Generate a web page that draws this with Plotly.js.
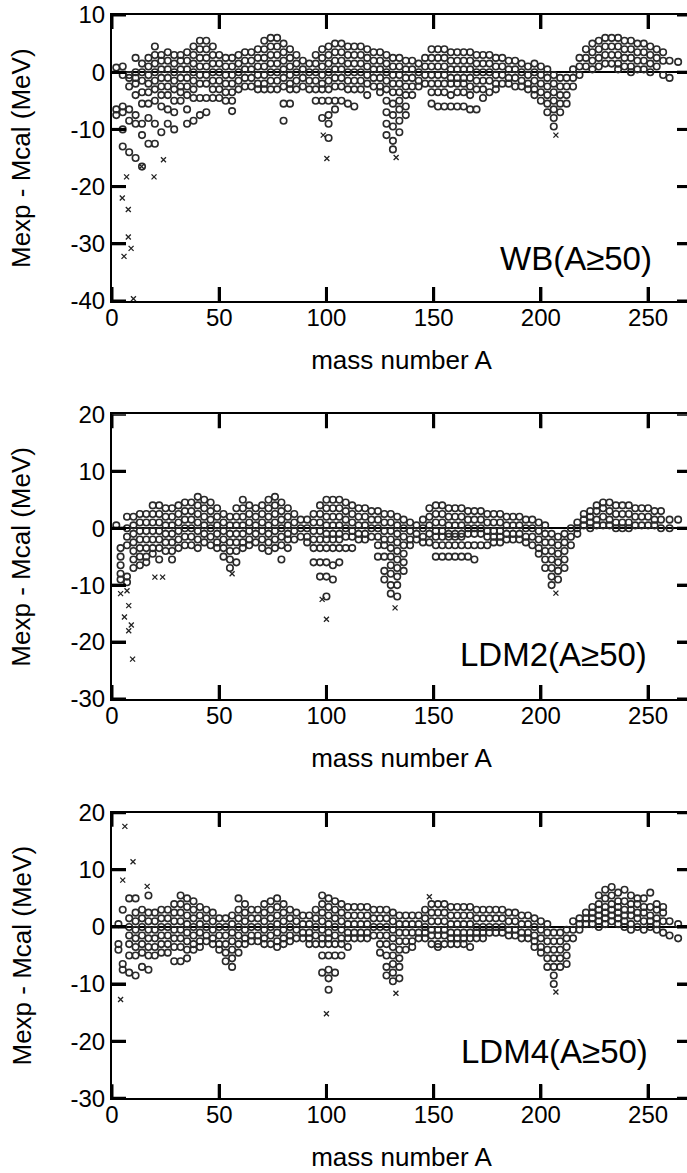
<!DOCTYPE html>
<html>
<head>
<meta charset="utf-8">
<script src="https://cdn.plot.ly/plotly-3.0.1.min.js"></script>
<style>
html,body{margin:0;padding:0;overflow:hidden;background:#fff;}
#chart{width:700px;height:1173px;}
</style>
</head>
<body>
<div id="chart"></div>
<script>
// ---------- shared tick values ----------
const massTicks = [0, 50, 100, 150, 200, 250];
const wbTicks = [-40, -30, -20, -10, 0, 10];
const wbTickText = ['-40', '-30', '-20', '-10', '0', '10'];
const ldmTicks = [-30, -20, -10, 0, 10, 20];
const ldmTickText = ['-30', '-20', '-10', '0', '10', '20'];
const panelLabels = ['WB(A\u226550)', 'LDM2(A\u226550)', 'LDM4(A\u226550)'];
const xTitle = 'mass number A';
const yTitle = 'Mexp - Mcal (MeV)';

// ---------- WB(A>=50) : column mass numbers and deviations (MeV) ----------
const wbMass = [2,5,8,11,14,17,20,23,26,29,32,35,38,41,44,47,50,53,56,59,62,65,68,71,74,77,80,83,86,89,92,95,98,101,104,107,110,113,116,119,122,125,128,131,134,137,140,143,146,149,152,155,158,161,164,167,170,173,176,179,182,185,188,191,194,197,200,203,206,209,212,215,218,221,224,227,230,233,236,239,242,245,248,251,254,257,260,264];
const wbDev = [
 [0.8,-6.5,-7.5],
 [1,-0.5,-6,-7,-10,-13],
 [-0.5,-1,-2.5,-6.5,-8.5,-14],
 [2.5,0,-1,-2,-4,-7.5,-9,-15],
 [1.5,0,-1.5,-3.5,-5.5,-9,-11,-16.5],
 [2.5,1,-0.5,-2,-3.5,-5.5,-8,-12.5],
 [4.5,3,1.5,0,-1.5,-3,-5,-9,-12.5],
 [3,2,0.5,-1,-2.5,-4,-6,-10.5],
 [3.5,2,0.5,-1,-2.5,-4,-6.5,-9],
 [3,1.5,0,-1.5,-3,-5,-7,-10],
 [3,2,0.5,-1,-2.5,-3.5,-5],
 [3.5,2,0.5,-1,-2.5,-4,-6.5,-9],
 [4.5,3,1.5,0,-1.5,-3,-4.5,-8.5],
 [5.5,4,2.5,1,-0.5,-2,-4.5,-7.5],
 [5.5,4,2.5,1,-0.5,-2,-4.5,-7],
 [4.5,3,1.5,0,-1.5,-3,-4.5],
 [3,1.5,0,-1.5,-3,-4.5],
 [2.5,1,-0.5,-2,-3.5,-5],
 [2.5,1,-0.5,-2,-3.5,-5,-6.8],
 [3,1.5,0,-1.5,-3],
 [3.5,2,0.5,-1,-2.5],
 [3.5,2,0.5,-1,-2.5],
 [4,2.5,1,-0.5,-2,-3],
 [5.5,4,2.5,1,-0.5,-2,-3],
 [6,4.5,3,1.5,0,-1.5,-3],
 [6,4.5,3,1.5,0,-1.5,-3],
 [5,3.5,2,0.5,-1,-2.5,-5.5,-8.5],
 [4,2.5,1,-0.5,-2,-3,-5.5],
 [3,1.5,0,-1.5,-3],
 [2,0.5,-1,-2.5],
 [1.5,0,-1.5,-3],
 [3,1.5,0,-1.5,-3,-5],
 [4,2.5,1,-0.5,-2,-3,-5,-8],
 [4.5,3,1.5,0,-1.5,-3,-5,-7.5,-9,-11.5],
 [5,3.5,2,0.5,-1,-2.5,-5,-6.5],
 [5,3.5,2,0.5,-1,-2.5,-5],
 [4.5,3,1.5,0,-1.5,-3,-5.5],
 [4.5,3,1.5,0,-1.5,-3,-6],
 [4.5,3,1.5,0,-1.5,-3],
 [4,2.5,1,-0.5,-2,-4],
 [3.5,2,0.5,-1,-2.5],
 [3.5,2,0.5,-1,-2.5,-3.5],
 [3,1.5,0,-1.5,-3,-5,-7,-9,-11],
 [2.5,1,-0.5,-2,-3.5,-5.5,-7.5,-9.5,-12,-13.5],
 [2.5,1,-0.5,-2,-3.5,-5,-6.5,-8.5,-10.5],
 [2,0.5,-1,-2.5,-4,-6,-7.5],
 [2,0.5,-1,-2.5,-4],
 [1.5,0,-1.5,-2.5],
 [2.5,1,-0.5,-2],
 [4,2.5,1,-0.5,-2,-3.5,-5.5],
 [4,2.5,1,-0.5,-2,-3.5,-6],
 [4,2.5,1,-0.5,-2,-3.5,-6],
 [3.5,2,0.5,-1,-2,-4,-6],
 [3.5,2,0.5,-1,-2,-3.5,-6],
 [3.5,2,0.5,-1,-2,-3.5,-6],
 [3.5,2,0.5,-1,-2.5,-4,-6.5],
 [3,1.5,0,-1.5,-3,-6.5],
 [3,1.5,0,-1.5,-3,-4.5],
 [3,1.5,0,-1.5,-3.5],
 [2.5,1,-0.5,-2,-3],
 [2.5,1,-0.5,-2],
 [2,0.5,-1,-2],
 [2,0.5,-1,-2.5],
 [1.5,0,-1.5,-2.5],
 [1,-0.5,-2,-3],
 [1.5,0,-1.5,-3,-4],
 [1,-0.5,-2,-3.5,-5],
 [0.5,-1,-2.5,-4,-5.5,-7],
 [-0.5,-2,-3.5,-5,-6.5,-8,-9.5],
 [-1,-2.5,-4,-5.5,-7],
 [-1,-2.5,-4,-5.5],
 [0.5,-1,-2.5],
 [2.5,1,-0.5],
 [4,2.5,1],
 [5,3.5,2,0.5],
 [5.5,4,2.5,1],
 [6,4.5,3,1.5],
 [6,4.5,3,1.5],
 [6,4.5,3,1.5,0.5],
 [5.5,4,2.5,1],
 [5.5,4,2.5,1,0],
 [5,3.5,2,0.5],
 [5,3.5,2,0.5],
 [4.5,3,1.5,0],
 [4,2.5,1],
 [3.5,2,-0.5],
 [2,-1],
 [1.8]
];
const wbOutMass = [4.8,5.6,7.6,8.9,7.6,6.8,10,13.8,19.6,24,100.2,98.5,132.5,207];
const wbOutDev  = [-22,-32.2,-28.8,-30.8,-24,-18.3,-39.6,-16.5,-18.3,-15.3,-15.1,-11,-14.9,-11];

// ---------- LDM2(A>=50) ----------
const ldm2Mass = [2,4,7,10,13,16,19,22,25,28,31,34,37,40,43,46,49,52,55,58,61,64,67,70,73,76,79,82,85,88,91,94,97,100,103,106,109,112,115,118,121,124,127,130,133,136,139,142,145,148,151,154,157,160,163,166,169,172,175,178,181,184,187,190,193,196,199,202,205,208,211,214,217,220,223,226,229,232,235,238,241,244,247,250,253,256,260,264];
const ldm2Dev = [
 [0.5],
 [-3.5,-5,-6.5,-8,-9],
 [2,0,-1.5,-3,-8.5,-9.5],
 [2,0.5,-1,-2.5,-4,-5.5,-7],
 [2.5,1,-0.5,-2,-3.5,-5,-6.5],
 [2.5,1,-0.5,-2,-3.5,-5,-6],
 [4,2.5,1,-0.5,-2,-3.5,-4.5],
 [4,2.5,1,-0.5,-2,-3.5,-5.5],
 [3.5,2,0.5,-1,-2.5,-4],
 [3.5,2,0.5,-1,-2.5,-4,-5.5],
 [4,2.5,1,-0.5,-2,-3.5],
 [4.5,3,1.5,0,-1.5,-3],
 [4.5,3,1.5,0,-1.5,-3],
 [5.5,4,2.5,1,-0.5,-2,-3.5],
 [5,3.5,2,0.5,-1,-2.5],
 [4.5,3,1.5,0,-1.5,-3],
 [3.5,2,0.5,-1,-2.5,-3.5],
 [2.5,1,-0.5,-2,-3.5,-5],
 [2,0.5,-1,-2.5,-4,-5.5,-7],
 [3.5,2,0.5,-1,-2.5,-4,-6],
 [5,3.5,2,0.5,-1,-2.5,-3.5],
 [4,2.5,1,-0.5,-2,-3],
 [3.5,2,0.5,-1,-2.5],
 [4,2.5,1,-0.5,-2,-3.5],
 [5,3.5,2,0.5,-1,-2.5,-4],
 [5.5,4,2.5,1,-0.5,-2,-3.5],
 [4.5,3,1.5,0,-1.5,-3,-5.5],
 [3.5,2,0.5,-1,-2,-3.5],
 [2.5,1,-0.5,-2],
 [1.5,0,-1.5],
 [1.5,0,-1.5,-2.5],
 [2.5,1,-0.5,-2,-3.5,-6],
 [4,2.5,1,-0.5,-2,-3.5,-6,-8.5],
 [5,3.5,2,0.5,-1,-2,-3.5,-6,-8.5,-12],
 [5,3.5,2,0.5,-1,-2,-3.5,-6.5,-9],
 [5,3.5,2,0.5,-1,-2,-3.5,-6],
 [4.5,3,1.5,0,-1.5,-3.5],
 [4,2.5,1,-0.5,-1.5,-3.5],
 [3.5,2,0.5,-1,-2],
 [3.5,2,0.5,-1,-2],
 [3,1.5,0,-1.5],
 [3,1.5,0,-1.5,-3,-5],
 [2.5,1,-0.5,-2,-3,-5,-7.5,-9],
 [2.5,1,-0.5,-2,-3.5,-5,-6.5,-8,-10,-11.5],
 [2,0.5,-1,-2.5,-4,-5.5,-7,-8.5,-10,-12],
 [1.5,0,-1.5,-3,-4.5,-6,-7.5],
 [1,-0.5,-2,-3],
 [0.5,-1,-2],
 [1.5,0,-1.5,-2.5],
 [3.5,2,0.5,-1,-2.5],
 [4,2.5,1,-0.5,-1.5,-3,-5],
 [4,2.5,1,-0.5,-1.5,-3,-5],
 [3.5,2,0.5,-1,-1.5,-3,-5],
 [3.5,2,0.5,-1,-1.5,-3,-5],
 [3.5,2,0.5,-1,-1.5,-3,-5],
 [3,1.5,0,-1,-3,-5],
 [3,1.5,0,-1,-3,-5.5],
 [3,1.5,0,-1,-3],
 [2.5,1,-0.5,-1.5,-3],
 [2.5,1,-0.5,-1.5,-2.5],
 [2.5,1,-0.5,-1.5,-2.5],
 [2,0.5,-1,-2],
 [2,0.5,-1,-2],
 [2,0.5,-1,-2],
 [1.5,0,-1.5,-2.5],
 [1.5,0,-1.5,-3],
 [1,-0.5,-2,-3.5,-4.5],
 [0.5,-1,-2.5,-4,-5.5,-7],
 [-1,-2.5,-4,-5.5,-7,-8.5,-10],
 [-1.5,-3,-4.5,-6,-7.5,-9],
 [-1,-2.5,-4,-5.5,-7],
 [0,-1.5,-3],
 [1,0,-1],
 [2.5,1.5,0.5],
 [3,2,1,0],
 [4,3,1.5,0.5],
 [4.5,3.5,2,0.5],
 [4.5,3,1.5,0.5],
 [4,2.5,1,0],
 [4,2.5,1,0],
 [4,2.5,1,0],
 [3.5,2,0.5],
 [3.5,2,0.5],
 [3.5,2,0.5],
 [3,1.5,0.5],
 [3,1.5,0],
 [1.5,0],
 [1.5]
];
const ldm2OutMass = [4,5.8,7,7.8,7.8,9,9.6,20,23.6,56,100,98,132,207];
const ldm2OutDev  = [-11.5,-15.6,-11,-13.6,-18,-17,-23,-8.6,-8.6,-8,-16,-12.5,-14,-11.4];

// ---------- LDM4(A>=50) ----------
const ldm4Mass = [3,5,8,11,14,17,20,23,26,29,32,35,38,41,44,47,50,53,56,59,62,65,68,71,74,77,80,83,86,89,92,95,98,101,104,107,110,113,116,119,122,125,128,131,134,137,140,143,146,149,152,155,158,161,164,167,170,173,176,179,182,185,188,191,194,197,200,203,206,209,212,215,218,221,224,227,230,233,236,239,242,245,248,251,254,257,260,264];
const ldm4Dev = [
 [0.5,-3,-4],
 [3,-6.5,-7.5],
 [5,1.5,0,-1.5,-3,-5,-8],
 [5,2.5,1,-0.5,-2,-3.5,-5,-8.5],
 [3,1.5,0,-1.5,-3,-4.5,-7],
 [5.5,2.5,1,-0.5,-2,-3.5,-5,-7.5],
 [2.5,1,-0.5,-2,-3.5,-5],
 [3,1.5,0,-1.5,-3,-4.5],
 [3,1.5,0,-1.5,-3,-4.5],
 [4,2.5,1,-0.5,-2,-3.5,-6],
 [5.5,4,2.5,1,-0.5,-2,-3.5,-6],
 [5,3.5,2,0.5,-1,-2.5,-4,-5.5],
 [4.5,3,1.5,0,-1.5,-3,-4],
 [3.5,2,0.5,-1,-2.5,-3.5],
 [3,1.5,0,-1.5,-2.5],
 [2.5,1,-0.5,-2,-3],
 [1.5,0,-1.5,-3,-4],
 [1.5,0,-1.5,-3,-4.5,-6],
 [2,0.5,-1,-2.5,-4,-5.5,-7],
 [5,3,1.5,0,-1.5,-3,-4.5],
 [4,2.5,1,-0.5,-2,-3],
 [3,1.5,0,-1.5,-2.5],
 [3,1.5,0,-1.5,-2.5],
 [4,2.5,1,-0.5,-2,-3],
 [4.5,3,1.5,0,-1.5,-3],
 [5,3.5,2,0.5,-1,-2.5,-3.5],
 [4,2.5,1,-0.5,-2,-3],
 [3,1.5,0,-1.5,-2.5],
 [2.5,1,-0.5,-2],
 [2,0.5,-1,-2],
 [2,0.5,-1,-2,-3],
 [3,1.5,0,-1.5,-3],
 [5.5,4,2.5,1,-0.5,-2,-3,-5,-8],
 [5,3.5,2,0.5,-1,-2,-3,-5,-7.5,-9,-11],
 [4.5,3,1.5,0,-1.5,-3,-5,-8],
 [4,2.5,1,-0.5,-2,-3,-5],
 [3.5,2,0.5,-1,-2,-3.5],
 [3.5,2,0.5,-1,-2],
 [3.5,2,0.5,-1,-2],
 [3.5,2,0.5,-1,-2],
 [3,1.5,0,-1.5],
 [3,1.5,0,-1.5,-3,-4.5],
 [3,1.5,0,-1.5,-3,-5,-7,-8.5],
 [2.5,1,-0.5,-2,-3.5,-5,-6.5,-8,-9.5],
 [2,0.5,-1,-2.5,-4,-5.5,-7,-9],
 [2,0.5,-1,-2.5,-4],
 [2,0.5,-1,-2.5,-3.5],
 [2,0.5,-1,-2],
 [3,1.5,0,-1,-2],
 [4,2.5,1,-0.5,-1.5,-3],
 [4,2.5,1,-0.5,-1.5,-3,-3.5],
 [4,2.5,1,-0.5,-1.5,-3],
 [3.5,2,0.5,-1,-2,-3],
 [3.5,2,0.5,-1,-2,-3],
 [3.5,2,0.5,-1,-2,-3],
 [3.5,2,0.5,-1,-2,-3.5],
 [3,1.5,0,-1,-2],
 [3,1.5,0,-1,-2],
 [3,1.5,0,-1],
 [3,1.5,0,-1],
 [3,1.5,0,-1],
 [2.5,1,-0.5,-1.5],
 [2.5,1,-0.5,-1.5],
 [2,0.5,-1,-2],
 [2,0.5,-1,-2],
 [1.5,0,-1.5,-2.5,-3.5],
 [1,-0.5,-2,-3.5,-4.5],
 [0.5,-1,-2.5,-4,-5.5,-7],
 [-1,-2.5,-4,-5.5,-7,-8.5,-10],
 [-1,-2.5,-4,-5.5,-7],
 [-0.5,-2,-3.5,-5,-6.5],
 [1,-0.5,-2],
 [1.5,0.5,-0.5],
 [2.5,1.5,0.5],
 [3.5,2.5,1.5,0.5],
 [5.5,4,3,2,1,0],
 [6.5,5,3.5,2.5,1.5,0.5],
 [7,5.5,4,3,2,1],
 [6,4.5,3.5,2.5,1.5,0.5],
 [6.5,4.5,3,2,1,0],
 [5.5,4,3,2,0.5,-0.5],
 [5,4,2.5,1.5,0],
 [5,3.5,2.5,1,-0.5],
 [6,3.5,2,1,0],
 [4,3,1.5,0.5,-0.5],
 [3.5,2.5,1,-1],
 [1,-1.5],
 [0.5,-2]
];
const ldm4OutMass = [6,9.8,5,16.4,4,100,132.4,207,148];
const ldm4OutDev  = [17.6,11.4,8.2,7.1,-12.7,-15.2,-11.6,-11.4,5.3];

// ---------- geometry / style ----------
const W = 700, H = 1173;
const ML = 112, MR = 9;
const PW = W - ML - MR;
const XR = [0, 270];
const FONT = 'Liberation Sans, Arial, Helvetica, sans-serif';
const domains = [
  [1 - 301 / H, 1 - 15 / H],
  [1 - 699 / H, 1 - 414.3 / H],
  [1 - 1098.3 / H, 1 - 812.7 / H]
];
const TL = 14, TW = 3;

// ---------- build traces ----------
function flatten(mass, dev) {
  const xs = [], ys = [];
  mass.forEach((a, i) => dev[i].forEach(v => { xs.push(a); ys.push(v); }));
  return {xs, ys};
}
const panels = [
  {mass: wbMass, dev: wbDev, om: wbOutMass, od: wbOutDev, yt: wbTicks, ytt: wbTickText, rng: [-40, 10]},
  {mass: ldm2Mass, dev: ldm2Dev, om: ldm2OutMass, od: ldm2OutDev, yt: ldmTicks, ytt: ldmTickText, rng: [-30, 20]},
  {mass: ldm4Mass, dev: ldm4Dev, om: ldm4OutMass, od: ldm4OutDev, yt: ldmTicks, ytt: ldmTickText, rng: [-30, 20]}
];
const traces = [];
panels.forEach((p, k) => {
  const sfx = k === 0 ? '' : String(k + 1);
  const f = flatten(p.mass, p.dev);
  traces.push({
    type: 'scatter', mode: 'markers', x: f.xs, y: f.ys,
    xaxis: 'x' + sfx, yaxis: 'y' + sfx, hoverinfo: 'skip',
    marker: {symbol: 'circle-open', size: 6.5, color: '#2a2a2a', line: {width: 1.6, color: '#2a2a2a'}}
  });
  traces.push({
    type: 'scatter', mode: 'markers', x: p.om, y: p.od,
    xaxis: 'x' + sfx, yaxis: 'y' + sfx, hoverinfo: 'skip',
    marker: {symbol: 'x-thin', size: 5, color: '#222', line: {width: 1.3, color: '#222'}}
  });
  // inside tick marks on all four sides, at the tick values, through the axis scales
  const plotH = (domains[k][1] - domains[k][0]) * H;
  const dx = TL * (XR[1] - XR[0]) / PW;
  const dy = TL * (p.rng[1] - p.rng[0]) / plotH;
  const tx = [], ty = [];
  massTicks.forEach(t => {
    tx.push(t, t, null, t, t, null);
    ty.push(p.rng[0], p.rng[0] + dy, null, p.rng[1], p.rng[1] - dy, null);
  });
  p.yt.forEach(t => {
    tx.push(XR[0], XR[0] + dx, null, XR[1], XR[1] - dx, null);
    ty.push(t, t, null, t, t, null);
  });
  traces.push({
    type: 'scatter', mode: 'lines', x: tx, y: ty,
    xaxis: 'x' + sfx, yaxis: 'y' + sfx, hoverinfo: 'skip',
    line: {color: '#000', width: TW}
  });
});

// ---------- layout ----------
function xAx(k) {
  return {
    domain: [0, 1], range: XR, anchor: k === 0 ? 'y' : 'y' + (k + 1),
    tickvals: massTicks, ticks: 'inside', ticklen: TL, tickwidth: TW, tickcolor: '#000',
    showline: true, linewidth: 2, linecolor: 'black', mirror: 'ticks',
    showgrid: false, zeroline: false, ticklabelstandoff: -6,
    tickfont: {family: FONT, size: 24, color: '#000'},
    title: {text: xTitle, font: {family: FONT, size: 26, color: '#000'}, standoff: 21}
  };
}
function yAx(k, p) {
  return {
    domain: domains[k], range: p.rng, anchor: k === 0 ? 'x' : 'x' + (k + 1),
    tickvals: p.yt, ticktext: p.ytt, ticks: 'inside', ticklen: TL, tickwidth: TW, tickcolor: '#000',
    showline: true, linewidth: 2, linecolor: 'black', mirror: 'ticks',
    showgrid: false, zeroline: true, zerolinecolor: '#000', zerolinewidth: 1.5,
    tickfont: {family: FONT, size: 24, color: '#000'}
  };
}
const labelPos = [[216.5, -32.5], [205.8, -22.2], [206.5, -21.8]];
const annotations = panelLabels.map((t, k) => ({
  text: t, showarrow: false,
  xref: k === 0 ? 'x' : 'x' + (k + 1), yref: k === 0 ? 'y' : 'y' + (k + 1),
  x: labelPos[k][0], y: labelPos[k][1], xanchor: 'center', yanchor: 'middle',
  font: {family: FONT, size: 33, color: '#000'}
}));
domains.forEach(d => annotations.push({
  text: yTitle, showarrow: false, textangle: -90,
  xref: 'paper', yref: 'paper', x: (21 - ML) / PW, y: (d[0] + d[1]) / 2,
  xanchor: 'center', yanchor: 'middle',
  font: {family: FONT, size: 26, color: '#000'}
}));
const layout = {
  width: W, height: H,
  margin: {l: ML, r: MR, t: 0, b: 0},
  paper_bgcolor: '#fff', plot_bgcolor: '#fff',
  showlegend: false,
  font: {family: FONT, color: '#000'},
  xaxis: xAx(0), xaxis2: xAx(1), xaxis3: xAx(2),
  yaxis: yAx(0, panels[0]), yaxis2: yAx(1, panels[1]), yaxis3: yAx(2, panels[2]),
  annotations: annotations
};
Plotly.newPlot('chart', traces, layout, {displayModeBar: false});
</script>
</body>
</html>
